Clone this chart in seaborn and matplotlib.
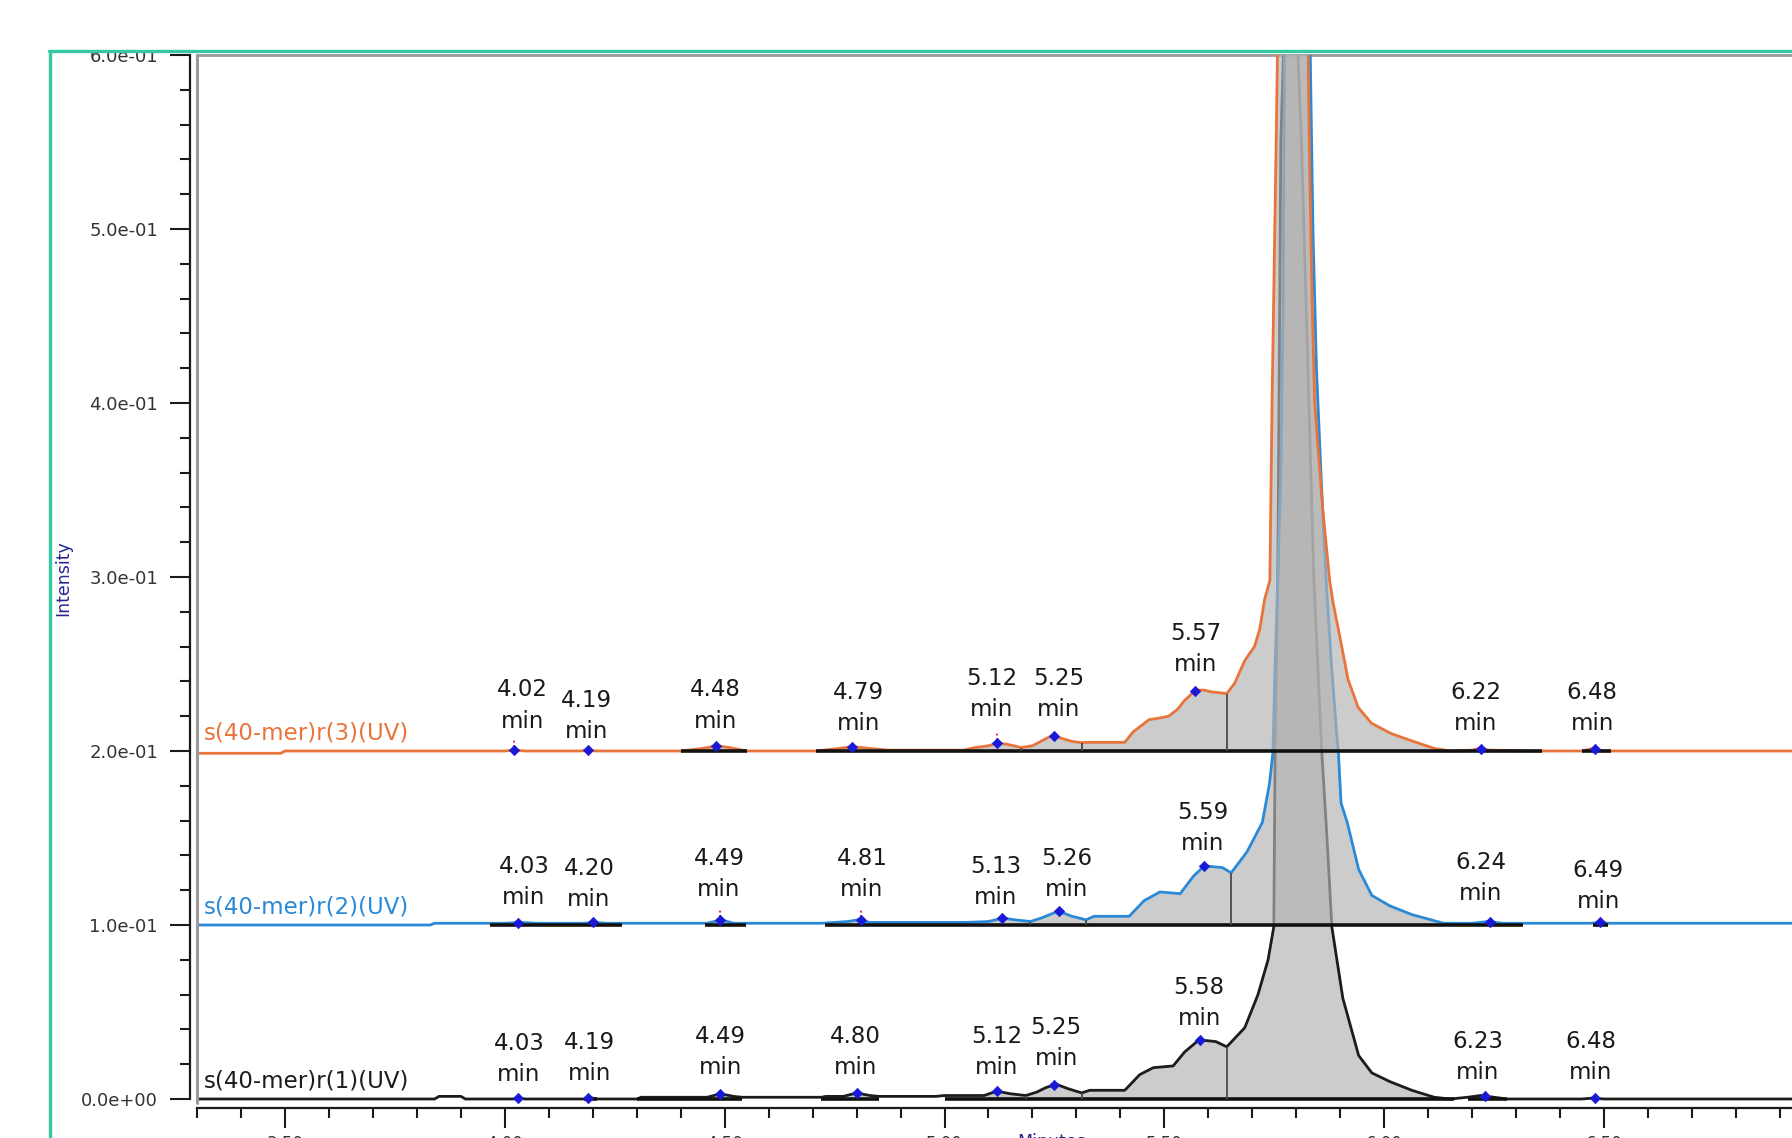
import numpy as np
import matplotlib
matplotlib.use("Agg")
import matplotlib.pyplot as plt
import matplotlib.ticker as mticker
from matplotlib.patches import Rectangle
from matplotlib.lines import Line2D
import seaborn as sns

# ---------------- DATA ----------------
trace_names = ["s(40-mer)r(1)(UV)", "s(40-mer)r(2)(UV)", "s(40-mer)r(3)(UV)"]

t_black = [3.30, 3.84, 3.85, 3.90, 3.91, 4.02, 4.03, 4.045, 4.18, 4.193, 4.21, 4.30, 4.31, 4.46, 4.49, 4.52,
           4.54, 4.72, 4.73, 4.77, 4.80, 4.83, 4.85, 4.98, 5.00, 5.09, 5.119, 5.15, 5.185, 5.21, 5.23, 5.254,
           5.28, 5.312, 5.33, 5.41, 5.444, 5.475, 5.52, 5.546, 5.579, 5.617, 5.642, 5.683, 5.713, 5.736,
           5.749, 5.752, 5.758, 5.765, 5.785, 5.812, 5.84, 5.858, 5.870, 5.881, 5.906, 5.942, 5.972, 6.013,
           6.063, 6.114, 6.15, 6.19, 6.219, 6.25, 6.28, 6.45, 6.474, 6.50, 6.95]
i_black = [0, 0, 0.0015, 0.0015, 0, 0, 0.0008, 0, 0, 0.0008, 0, 0, 0.001, 0.001, 0.003, 0.0015,
           0.001, 0.001, 0.0015, 0.0015, 0.0035, 0.002, 0.0015, 0.0015, 0.002, 0.002, 0.0045, 0.003, 0.002,
           0.004, 0.0065, 0.0085, 0.006, 0.0035, 0.005, 0.005, 0.014, 0.018, 0.019, 0.027, 0.034, 0.033,
           0.030, 0.041, 0.060, 0.080, 0.099, 0.20, 0.30, 0.55, 0.72, 0.55, 0.30, 0.20, 0.15, 0.099, 0.058,
           0.025, 0.015, 0.010, 0.005, 0.001, 0, 0.001, 0.002, 0.001, 0, 0, 0.0005, 0, 0]

t_blue = [3.30, 3.83, 3.84, 4.00, 4.037, 4.07, 4.18, 4.201, 4.23, 4.46, 4.492, 4.52, 4.72, 4.78, 4.804,
          4.83, 5.05, 5.10, 5.132, 5.16, 5.195, 5.22, 5.259, 5.29, 5.322, 5.34, 5.42, 5.454, 5.49, 5.536,
          5.566, 5.591, 5.632, 5.652, 5.688, 5.723, 5.739, 5.747, 5.752, 5.758, 5.765, 5.770, 5.773, 5.80,
          5.832, 5.838, 5.846, 5.858, 5.868, 5.880, 5.892, 5.896, 5.902, 5.916, 5.942, 5.972, 6.013, 6.063,
          6.135, 6.20, 6.236, 6.27, 6.47, 6.49, 6.51, 6.95]
i_blue = [0, 0, 0.001, 0.001, 0.0015, 0.001, 0.001, 0.0015, 0.001, 0.001, 0.003, 0.001, 0.001, 0.002, 0.003,
          0.0015, 0.0015, 0.002, 0.004, 0.003, 0.002, 0.004, 0.008, 0.005, 0.003, 0.005, 0.005, 0.014, 0.019,
          0.018, 0.028, 0.034, 0.033, 0.030, 0.042, 0.059, 0.081, 0.099, 0.15, 0.198, 0.26, 0.35, 0.50, 0.62,
          0.50, 0.40, 0.32, 0.25, 0.198, 0.15, 0.11, 0.099, 0.07, 0.059, 0.032, 0.017, 0.011, 0.006, 0.001,
          0.001, 0.002, 0.001, 0.001, 0.0015, 0.001, 0.001]

t_orange = [3.30, 3.49, 3.50, 4.00, 4.022, 4.045, 4.17, 4.189, 4.21, 4.40, 4.45, 4.482, 4.51, 4.55, 4.708,
            4.76, 4.791, 4.83, 4.87, 5.043, 5.07, 5.10, 5.119, 5.14, 5.175, 5.20, 5.23, 5.246, 5.27, 5.29,
            5.312, 5.33, 5.41, 5.429, 5.45, 5.465, 5.49, 5.51, 5.53, 5.546, 5.571, 5.59, 5.607, 5.642, 5.660,
            5.683, 5.705, 5.717, 5.728, 5.740, 5.745, 5.750, 5.755, 5.760, 5.79, 5.82, 5.827, 5.831, 5.836,
            5.842, 5.860, 5.876, 5.884, 5.899, 5.918, 5.941, 5.971, 6.016, 6.069, 6.114, 6.15, 6.20, 6.216,
            6.24, 6.35, 6.45, 6.475, 6.50, 6.95]
i_orange = [-0.0013, -0.0013, 0, 0, 0.0005, 0, 0, 0.0004, 0, 0, 0.0015, 0.003, 0.002, 0, 0,
            0.0015, 0.0025, 0.0015, 0.0005, 0.0005, 0.002, 0.003, 0.0045, 0.004, 0.002, 0.003, 0.007, 0.009,
            0.007, 0.0055, 0.0048, 0.005, 0.005, 0.011, 0.015, 0.018, 0.019, 0.020, 0.024, 0.029, 0.035, 0.035,
            0.034, 0.033, 0.039, 0.052, 0.060, 0.070, 0.087, 0.098, 0.20, 0.28, 0.36, 0.45, 0.62, 0.47, 0.40,
            0.33, 0.26, 0.20, 0.14, 0.098, 0.085, 0.066, 0.041, 0.025, 0.016, 0.010, 0.0053, 0.0015, 0, 0.0005,
            0.0015, 0.0005, 0, 0, 0.0015, 0, 0]

# peak retention times (labels)
rt_black = [4.03, 4.19, 4.49, 4.80, 5.12, 5.25, 5.58, 6.23, 6.48]
rt_blue = [4.03, 4.20, 4.49, 4.81, 5.13, 5.26, 5.59, 6.24, 6.49]
rt_orange = [4.02, 4.19, 4.48, 4.79, 5.12, 5.25, 5.57, 6.22, 6.48]

# integration baseline segments (start, end) in minutes
seg_black = [(4.18, 4.21), (4.30, 4.54), (4.72, 4.85), (5.00, 6.114), (6.114, 6.16), (6.19, 6.28)]
seg_blue = [(3.967, 4.266), (4.454, 4.549), (4.727, 5.051), (5.051, 6.135), (6.135, 6.317), (6.475, 6.51)]
seg_orange = [(4.40, 4.55), (4.708, 5.043), (5.043, 6.12), (6.12, 6.358), (6.449, 6.515)]

# peak boundaries (drop lines)
drop_black = [5.185, 5.312, 5.642]
drop_blue = [5.195, 5.322, 5.652]
drop_orange = [5.175, 5.312, 5.642]

y_ticks = [0.0, 0.1, 0.2, 0.3, 0.4, 0.5, 0.6]

# ---------------- LAYOUT / STYLE ----------------
offsets = [0.0, 0.1, 0.2]
colors = ["#1c1c1c", "#2a8ad8", "#e8743b"]
label_x = [
    [4.032, 4.193, 4.490, 4.797, 5.119, 5.254, 5.579, 6.213, 6.470],
    [4.043, 4.191, 4.487, 4.812, 5.116, 5.278, 5.587, 6.219, 6.487],
    [4.040, 4.186, 4.479, 4.804, 5.108, 5.259, 5.571, 6.208, 6.473],
]
label_dy = [
    [0.0234, 0.0240, 0.0273, 0.0273, 0.0273, 0.0326, 0.0556, 0.0247, 0.0247],
    [0.0253, 0.0240, 0.0299, 0.0299, 0.0253, 0.0299, 0.0563, 0.0273, 0.0227],
    [0.0266, 0.0207, 0.0266, 0.0253, 0.0332, 0.0332, 0.0589, 0.0253, 0.0253],
]
red_ticks = [(2, 4.02), (2, 5.12), (1, 4.49), (1, 4.81)]

W, H = 1792, 1138
PX_PER_MIN = 439.6
AX_LEFT, AX_TOP, AX_BOTTOM = 197.0, 55.0, 1107.7
XMIN = 3.2995
XMAX = XMIN + (W - AX_LEFT) / PX_PER_MIN
YMIN, YMAX = -0.005, 0.6
NAVY = "#26268f"
FILL = (0.706, 0.706, 0.706)

sns.set_theme(style="white")
plt.rcParams['font.family'] = ['DejaVu Sans']

fig = plt.figure(figsize=(W / 100, H / 100), dpi=100)
fig.patch.set_facecolor("white")
ax = fig.add_axes([AX_LEFT / W, 1 - AX_BOTTOM / H, (W - AX_LEFT) / W, (AX_BOTTOM - AX_TOP) / H])
ax.set_facecolor("white")
ax.set_xlim(XMIN, XMAX)
ax.set_ylim(YMIN, YMAX)

traces = [(t_black, i_black, rt_black, seg_black, drop_black),
          (t_blue, i_blue, rt_blue, seg_blue, drop_blue),
          (t_orange, i_orange, rt_orange, seg_orange, drop_orange)]

for k, (t, inten, rts, segs, drops) in enumerate(traces):
    t = np.asarray(t, float)
    y = np.asarray(inten, float)
    base = offsets[k]
    z = 2 + 4 * k
    # integrated area fill
    for (s, e) in segs:
        m = (t >= s - 1e-9) & (t <= e + 1e-9)
        if m.sum() >= 2:
            ax.fill_between(t[m], base, base + y[m], color=FILL, alpha=0.67, lw=0, zorder=z)
    # trace
    sns.lineplot(x=t, y=base + y, ax=ax, color=colors[k], linewidth=2.0,
                 estimator=None, sort=False, zorder=z + 1)
    # integration baselines
    for (s, e) in segs:
        ax.hlines(base, s, e, color="#111111", lw=2.6, zorder=z + 2)
    # drop lines
    dv = np.interp(drops, t, y)
    ax.vlines(drops, base, base + dv, color="#4a4a4a", lw=1.3, zorder=z + 2)
    # apex markers
    mv = np.interp(rts, t, y)
    sns.scatterplot(x=rts, y=base + mv, ax=ax, marker="D", s=28, color="#1a1ad6",
                    edgecolor="#1a1ad6", linewidth=0.5, zorder=30)
    # labels
    for j, rt in enumerate(rts):
        lx = label_x[k][j]
        ly = base + label_dy[k][j]
        ax.annotate(f"{rt:.2f}", xy=(lx, ly), xytext=(0, 6.0), textcoords="offset points",
                    ha="center", va="baseline", fontsize=16.5, color="#1a1a1a", zorder=31)
        ax.annotate("min", xy=(lx, ly), xytext=(0, -16.5), textcoords="offset points",
                    ha="center", va="baseline", fontsize=16.5, color="#1a1a1a", zorder=31)
    # trace name
    ax.annotate(trace_names[k], xy=(0, base), xycoords=("axes fraction", "data"),
                xytext=(5, 8.6), textcoords="offset points", ha="left", va="baseline",
                fontsize=16.5, color=colors[k], zorder=31)

# red dotted pointers
for (k, rt) in red_ticks:
    t, inten = traces[k][0], traces[k][1]
    v = offsets[k] + np.interp(rt, t, inten)
    ax.vlines(rt, v + 0.002, v + 0.007, color="#e01010", linestyles=(0, (1, 1.5)), lw=1.3, zorder=29)

# axes styling
for side in ["right"]:
    ax.spines[side].set_visible(False)
ax.spines["top"].set_color("#9a9a9a")
ax.spines["top"].set_linewidth(2.0)
ax.spines["left"].set_position(("outward", 5))
ax.spines["left"].set_bounds(0, 0.6)
ax.spines["left"].set_color("#1a1a1a")
ax.spines["left"].set_linewidth(1.6)
ax.spines["bottom"].set_color("#1a1a1a")
ax.spines["bottom"].set_linewidth(1.6)
ax.plot([0, 0], [0.004, 1], transform=ax.transAxes, color="#9a9a9a", lw=2.2, clip_on=False, zorder=40)

ax.set_yticks(y_ticks)
ax.yaxis.set_minor_locator(mticker.MultipleLocator(0.02))
ax.yaxis.set_major_formatter(mticker.FuncFormatter(lambda v, p: f"{v:.1e}"))
ax.xaxis.set_major_locator(mticker.MultipleLocator(0.5))
ax.xaxis.set_minor_locator(mticker.MultipleLocator(0.1))
ax.xaxis.set_major_formatter(mticker.FormatStrFormatter("%.2f"))
ax.tick_params(axis="y", which="major", direction="out", length=14.4, width=1.5, color="#1a1a1a",
               labelsize=13, labelcolor="#333333", pad=8.6, left=True)
ax.tick_params(axis="y", which="minor", direction="out", length=7.2, width=1.5, color="#1a1a1a", left=True)
ax.tick_params(axis="x", which="major", direction="out", length=14.4, width=1.5, color="#1a1a1a",
               labelsize=12, labelcolor="#333333", pad=5, bottom=True)
ax.tick_params(axis="x", which="minor", direction="out", length=7.2, width=1.5, color="#1a1a1a", bottom=True)
ax.set_xlabel("")
ax.set_ylabel("")

fig.text(1052 / W, 1 - 1133 / H, "Minutes", ha="center", va="top", fontsize=12.5, color=NAVY)
fig.text(63.5 / W, 1 - 578 / H, "Intensity", ha="center", va="center", rotation=90,
         fontsize=12.5, color=NAVY)

# frame: white band above and teal outline
fig.add_artist(Rectangle((0, 1 - 50.5 / H), 1, 50.5 / H, transform=fig.transFigure,
                         facecolor="white", edgecolor="none", zorder=50))
fig.add_artist(Line2D([50 / W, 50 / W], [0, 1 - 51 / H], transform=fig.transFigure,
                      color="#34c9a0", lw=2.4, zorder=51))
fig.add_artist(Line2D([49.2 / W, 1], [1 - 51 / H, 1 - 51 / H], transform=fig.transFigure,
                      color="#34c9a0", lw=2.4, zorder=51))

fig.savefig("out.png", dpi=100, facecolor="white")
